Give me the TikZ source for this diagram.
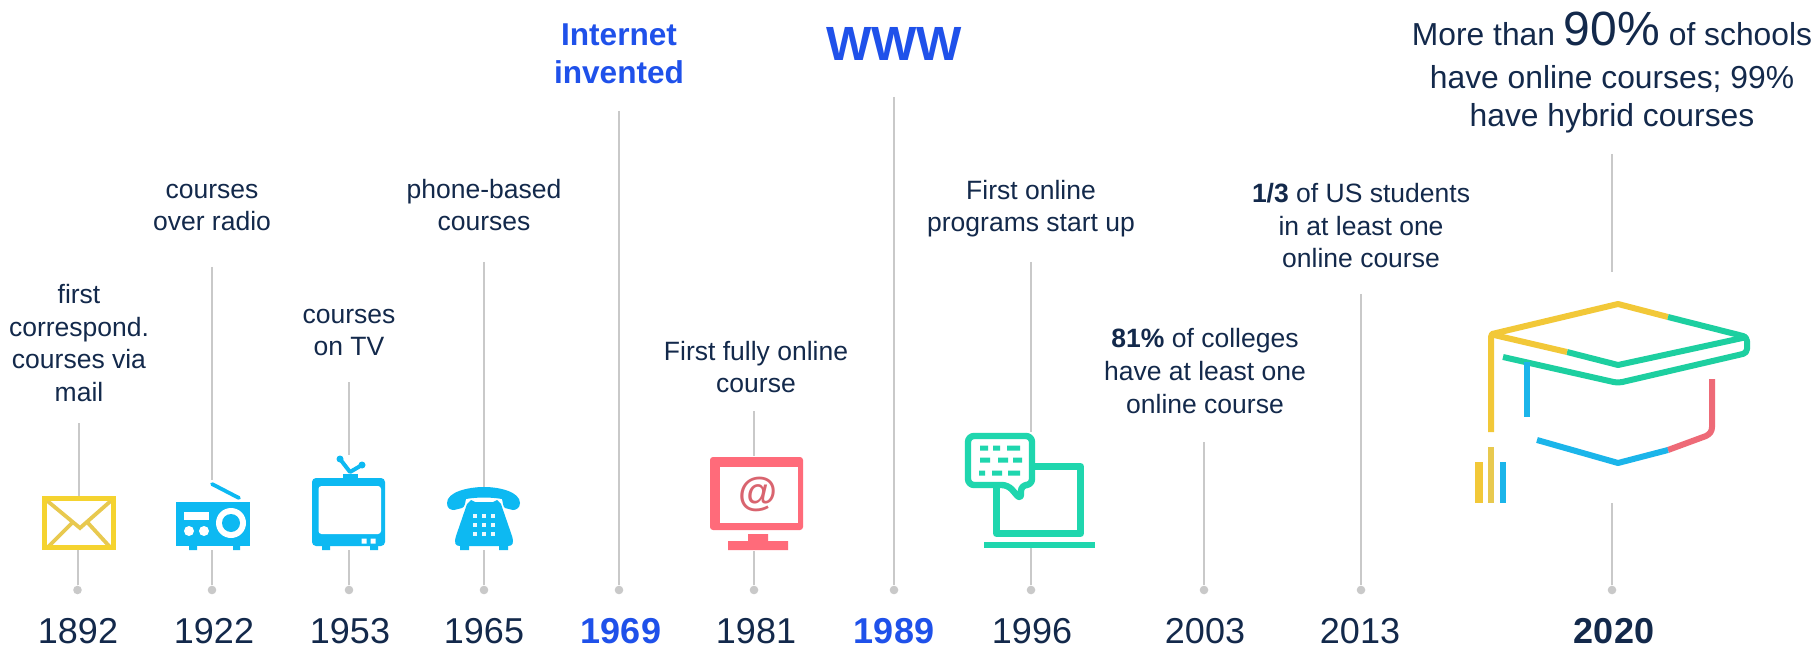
\documentclass[tikz,border=0pt]{standalone}
\usepackage{fontspec}
\setmainfont{Liberation Sans}
\definecolor{navy}{HTML}{13294B}
\definecolor{hiblue}{HTML}{1F51EA}
\definecolor{stemgray}{HTML}{C9C9C9}
\definecolor{icoyellow}{HTML}{F5D32F}
\definecolor{icoyellowb}{HTML}{E8C94F}
\definecolor{icocyan}{HTML}{0DB9F2}
\definecolor{icored}{HTML}{FF6B7A}
\definecolor{icoat}{HTML}{D9646F}
\definecolor{icogreen}{HTML}{1FD6AE}
\definecolor{capyellow}{HTML}{F2C838}
\definecolor{capgreen}{HTML}{1DCFA0}
\definecolor{capblue}{HTML}{1BB5EA}
\definecolor{capred}{HTML}{EE6A77}
\tikzset{
  stem/.style={draw=stemgray,line width=1pt},
  dot/.style={circle,fill=stemgray,inner sep=0pt,minimum size=4.3pt},
  year/.style={anchor=base,text=navy,inner sep=0pt,font=\fontsize{18}{20}\selectfont},
  hiyear/.style={year,text=hiblue,font=\fontsize{18}{20}\selectfont\bfseries},
  caption/.style={anchor=base,align=center,text=navy,inner sep=0pt,font=\fontsize{13.25}{16.25}\selectfont},
  hicaption/.style={anchor=base,align=center,text=hiblue,inner sep=0pt,font=\fontsize{15.8}{19}\selectfont\bfseries},
  capline/.style={line width=3pt,line cap=butt,line join=round}
}
\begin{document}
\begin{tikzpicture}[x=0.5pt,y=-0.5pt]
\useasboundingbox[fill=white] (0,0) rectangle (1818,646);
% icon footprints
\node[inner sep=0pt,minimum width=37pt,minimum height=27pt] (i1892) at (79,523) {};
\node[inner sep=0pt,minimum width=37pt,minimum height=35pt] (i1922) at (213,515) {};
\node[inner sep=0pt,minimum width=37pt,minimum height=47.5pt] (i1953) at (349,502.5) {};
\node[inner sep=0pt,minimum width=37pt,minimum height=31.5pt] (i1965) at (484,518.5) {};
\node[inner sep=0pt,minimum width=46.5pt,minimum height=47.5pt] (i1981) at (755,503.5) {};
\node[inner sep=0pt,minimum width=65.5pt,minimum height=58pt] (i1996) at (1031,490) {};
\node[inner sep=0pt,minimum width=137.5pt,minimum height=115.5pt] (i2020) at (1612,387.5) {};
% dots
\foreach \n/\x in {1892/77.5,1922/212,1953/349,1965/484,1969/619,1981/754,1989/894,1996/1031,2003/1204,2013/1361,2020/1612}
  \node[dot] (d\n) at (\x,590) {};
% stem tops
\coordinate (t1892) at (79,423);
\coordinate (t1922) at (212,267);
\coordinate (t1953) at (349,382);
\coordinate (t1965) at (484,262);
\coordinate (t1969) at (619,111);
\coordinate (t1981) at (754,411);
\coordinate (t1989) at (894,97);
\coordinate (t1996) at (1031,262);
\coordinate (t2003) at (1204,442);
\coordinate (t2013) at (1361,294);
\coordinate (t2020) at (1612,154);
% stems
\foreach \n in {1892,1922,1953,1965,1981,1996,2020}{
  \draw[stem] (t\n) -- (t\n |- i\n.north);
  \draw[stem] (d\n) -- (d\n |- i\n.south);
}
\foreach \n in {1969,1989,2003,2013}
  \draw[stem] (t\n) -- (d\n);
% years
\node[year] (y1892) at (78,643) {1892};
\node[year] (y1922) at (214,643) {1922};
\node[year] (y1953) at (350,643) {1953};
\node[year] (y1965) at (484,643) {1965};
\node[hiyear] (y1969) at (621,643) {1969};
\node[year] (y1981) at (756,643) {1981};
\node[hiyear] (y1989) at (894,643) {1989};
\node[year] (y1996) at (1032,643) {1996};
\node[year] (y2003) at (1205,643) {2003};
\node[year] (y2013) at (1360,643) {2013};
\node[year,font=\fontsize{18}{20}\selectfont\bfseries] (y2020) at (1614,643) {2020};
% captions (base = last line)
\node[caption] (c1892) at (79,401) {first\\correspond.\\courses via\\mail};
\node[caption] (c1922) at (212,231) {courses\\over radio};
\node[caption] (c1953) at (349,356) {courses\\on TV};
\node[caption] (c1965) at (484,231) {phone-based\\courses};
\node[hicaption] (c1969) at (619,84) {Internet\\invented};
\node[anchor=base,text=hiblue,inner sep=0pt,font=\fontsize{24}{28}\selectfont\bfseries] (c1989) at (894,61) {WWW};
\node[caption] (c1981) at (756,393) {First fully online\\course};
\node[caption] (c1996) at (1031,232) {First online\\programs start up};
\node[caption] (c2003) at (1205,413) {\textbf{81\%} of colleges\\have at least one\\online course};
\node[caption] (c2013) at (1361,268) {\textbf{1/3} of US students\\in at least one\\online course};
\node[anchor=base,align=center,text=navy,inner sep=0pt,font=\fontsize{15.9}{19.4}\selectfont] (c2020) at (1612,127) {More than {\fontsize{24}{24}\selectfont 90\%} of schools\\[1.7pt]have online courses; 99\%\\have hybrid courses};
% envelope
\fill[white] (i1892.south west) rectangle (i1892.north east);
\draw[icoyellowb,line width=1.9pt] (45,499) -- (80,528) -- (113,499) (48,547) -- (72,523) (110,547) -- (88,523);
\draw[icoyellow,line width=2.3pt] (44.5,498.5) rectangle (113.5,547.5);
% radio
\fill[icocyan] (176,502) rectangle (250,546);
\fill[icocyan] (189,546) rectangle (197,550) (233,546) rectangle (240,550);
\draw[icocyan,line width=1.9pt,line cap=round] (212,484) -- (239,498);
\fill[white] (184,512) rectangle (209,520);
\fill[white] (189,531) circle[radius=5] (204,531) circle[radius=5] (231,523) circle[radius=15];
\fill[icocyan] (231,523) circle[radius=9];
% tv
\fill[icocyan,rounded corners=2pt] (312,478) rectangle (385,546);
\fill[icocyan] (322,544) rectangle (330,550) (370,544) rectangle (378,550);
\fill[white,rounded corners=1.5pt] (318.5,486) rectangle (381,534);
\fill[white] (361.5,538.5) rectangle (366.5,543.5) (370.5,538.5) rectangle (375.5,543.5);
\draw[icocyan,line width=2pt,line cap=round,line join=round] (340,459) -- (350,472) -- (362,465);
\draw[icocyan,line width=2pt] (343,475.5) -- (358,475.5);
\fill[icocyan] (340,459) circle[radius=3.5] (362,465) circle[radius=3.5];
% phone
\fill[icocyan] (447,503) .. controls (447,492) and (468,487) .. (484,487) .. controls (500,487) and (520,492) .. (520,503) .. controls (520,508) and (516,510) .. (513,510) -- (505,508) .. controls (503,507) and (503,503) .. (502,499) .. controls (490,497) and (478,497) .. (466,499) .. controls (465,503) and (465,507) .. (462,508) -- (454,510) .. controls (450,510) and (447,508) .. (447,503) -- cycle;
\fill[icocyan] (467,504) -- (471,500) -- (475,502) -- (493,502) -- (497,500) -- (501,504) -- (512,536) .. controls (514,543) and (513,546) .. (508,546) -- (460,546) .. controls (455,546) and (454,543) .. (456,536) -- cycle;
\fill[icocyan] (460,545) rectangle (469,550) (499,545) rectangle (508,550);
\foreach \kx in {475,484,493}\foreach \ky in {516,525,534}
  \fill[white!92!icocyan] (\kx-2.3,\ky-2.3) rectangle (\kx+2.3,\ky+2.3);
% monitor
\fill[icored,rounded corners=1.5pt] (710,457) rectangle (803,530);
\fill[white] (720,467) rectangle (798,523);
\fill[icored] (748,534) rectangle (768,541) (728,541) rectangle (788,550);
\node[text=icoat,inner sep=0pt,font=\fontsize{20}{22}\selectfont\bfseries] (atsign) at (758,494) {@};
% laptop
\draw[icogreen,line width=3.5pt,line join=round] (996.5,480) -- (996.5,533.5) -- (1080.5,533.5) -- (1080.5,466.5) -- (1030,466.5);
\fill[icogreen] (984,542) rectangle (1095,548);
\draw[icogreen,line width=3.2pt,line join=round,fill=white,rounded corners=3pt] (968,436) -- (1032,436) -- (1032,485) -- (1021,485) -- (1021,500) -- (1008,485) -- (968,485) -- cycle;
\fill[icogreen] (980,445.5) rectangle (988,450.5) (993,445.5) rectangle (1000,450.5) (1007,445.5) rectangle (1020,450.5)
                (980,457.5) rectangle (990,462.5) (998,457.5) rectangle (1008,462.5) (1013,457.5) rectangle (1022,462.5)
                (979,470.5) rectangle (985,475.5) (992,470.5) rectangle (1002,475.5) (1008,470.5) rectangle (1020,475.5);
% graduation cap
\draw[capline,capyellow] (1491,432) -- (1491,337) -- (1492,334) -- (1618,304) -- (1668,317);
\draw[capline,capgreen,rounded corners=2pt] (1668,317) -- (1747,337) -- (1747,353) -- (1618,383) -- (1503,357);
\draw[capline,capgreen] (1747,337) -- (1618,365) -- (1567,352);
\draw[capline,capyellow] (1567,352) -- (1494,335);
\draw[capblue,line width=3pt] (1527,362) -- (1527,417);
\draw[capline,capred] (1712,379) -- (1712,427) .. controls (1712,431) and (1710,434) .. (1706,436) -- (1668,450);
\draw[capline,capblue] (1668,450) -- (1618,463) -- (1537,440);
\fill[capyellow] (1475,462) rectangle (1482.5,503);
\fill[icoyellowb] (1488,447) rectangle (1494,503);
\fill[capblue] (1500,462) rectangle (1506,503);
\end{tikzpicture}
\end{document}
